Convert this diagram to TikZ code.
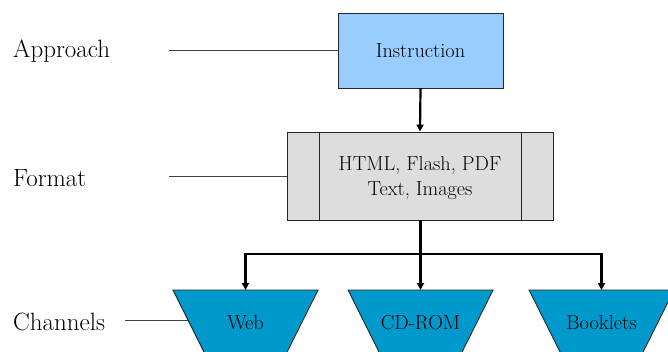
\documentclass[tikz,border=0pt]{standalone}
\usetikzlibrary{arrows.meta}
\begin{document}
\begin{tikzpicture}[x=1pt,y=-1pt,
  boxtext/.style={font=\rmfamily\fontsize{20.3}{25}\selectfont, align=center, inner sep=0pt},
  leveltext/.style={font=\rmfamily\fontsize{25}{30}\selectfont, anchor=west, inner sep=0pt},
  outline/.style={draw=black!85, line width=0.9pt},
  guide/.style={draw=black!75, line width=0.9pt},
  flow/.style={draw=black, line width=2.2pt, -{Triangle[length=7pt,width=7pt]}},
  bus/.style={draw=black, line width=2.2pt}
]
\useasboundingbox (0,0) rectangle (668,352);
\clip (0,0) rectangle (668,352);

% level labels
\node[leveltext] (lapp) at (13,51) {Approach};
\node[leveltext] (lfmt) at (13,178) {Format};
\node[leveltext] (lchn) at (13,322) {Channels};

% approach box
\node[outline, fill={rgb,255:red,153;green,204;blue,255}, minimum width=165pt, minimum height=75pt, inner sep=0pt]
  (instr) at (420.5,50.5) {};
\node[boxtext] at (instr.center) {Instruction};

% format box with side bars
\node[outline, fill={rgb,255:red,221;green,221;blue,221}, minimum width=266pt, minimum height=88pt, inner sep=0pt]
  (fmt) at (420,176) {};
\draw[outline] ([xshift=33pt]fmt.north west) -- ([xshift=33pt]fmt.south west);
\draw[outline] ([xshift=-32pt]fmt.north east) -- ([xshift=-32pt]fmt.south east);
\node[boxtext] at (420,178) {HTML, Flash, PDF\\Text, Images};

% channel trapezoids
\definecolor{chan}{RGB}{0,153,204}
\foreach \cx/\nm/\txt in {245.5/web/Web, 420.5/cd/CD-ROM, 601.5/book/Booklets}{
  \filldraw[outline, fill=chan] (\cx-72.5,290) -- (\cx+72.5,290) -- (\cx+34,367) -- (\cx-34,367) -- cycle;
  \coordinate (\nm) at (\cx,290);
  \node[boxtext] (\nm t) at (\cx,323) {\txt};
}
\coordinate (webleft) at (188,320);

% guide lines from labels
\coordinate (gapp) at (169,50.5);
\coordinate (gfmt) at (169,176);
\coordinate (gchn) at (125,320);
\draw[guide] (gapp) -- (instr.west);
\draw[guide] (gfmt) -- (fmt.west);
\draw[guide] (gchn) -- (webleft);

% flow arrows
\draw[flow] (instr.south) -- (fmt.north);
\coordinate (split) at (420.5,254);
\draw[bus] (fmt.south -| split) -- (split);
\draw[flow] (split) -| (web);
\draw[flow] (split) -- (cd);
\draw[flow] (split) -| (book);
\end{tikzpicture}
\end{document}
